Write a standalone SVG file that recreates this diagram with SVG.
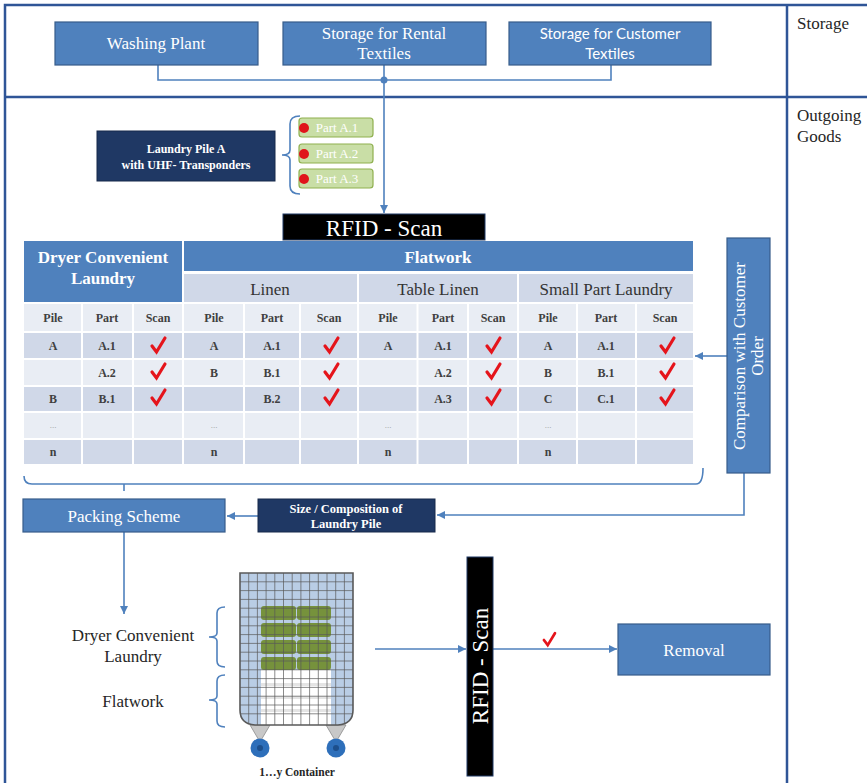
<svg xmlns="http://www.w3.org/2000/svg" width="867" height="783" viewBox="0 0 867 783">
  <style>
    .frame { stroke: #2f5597; stroke-width: 2.5; fill: none; }
    .box { fill: #4f81bd; stroke: #385d8a; stroke-width: 1.2; }
    .navy { fill: #1f3864; stroke: #17294a; stroke-width: 1; }
    .line { stroke: #4f81bd; stroke-width: 1.6; fill: none; }
    .brace { stroke: #4f81bd; stroke-width: 1.6; fill: none; }
    .serif, .lbl, .head, .sub, .dots { font-family: "Liberation Serif", "DejaVu Serif", "Noto Serif", serif; }
    .wt { fill: #ffffff; text-anchor: middle; }
    .lbl { font-size: 17px; fill: #262626; }
    .head { font-size: 12px; font-weight: bold; fill: #404040; text-anchor: middle; }
    .sub { font-size: 17px; fill: #333333; text-anchor: middle; }
    .dots { font-size: 9px; fill: #9a9a9a; text-anchor: middle; }
    .dark { fill: #d0d8e8; }
    .light { fill: #e9edf4; }
    .chk { stroke: #e5141b; stroke-width: 3.2; fill: none; stroke-linecap: round; stroke-linejoin: miter; }
    .part { fill: #c9dea6; stroke: #8fb04f; stroke-width: 1.2; }
    .tag { fill: #e0141b; }
    .scan { fill: #000000; stroke: #1f3864; stroke-width: 1; }
  </style>
  <defs>
    <marker id="arr" viewBox="0 0 10 10" refX="10" refY="5" markerWidth="8" markerHeight="8" markerUnits="userSpaceOnUse" orient="auto">
      <path d="M0,0 L10,5 L0,10 z" fill="#4f81bd"/>
    </marker>
    <path id="tick" d="M-6,0 L-1.5,6 L7,-8" class="chk"/>
    <clipPath id="cage">
      <path d="M240,573 L353,573 L353,710 Q353,724 338,725 L255,725 Q240,724 240,710 z"/>
    </clipPath>
  </defs>

  <rect x="0" y="0" width="867" height="783" fill="#ffffff"/>

  <!-- swimlane frame -->
  <g id="frame">
    <path class="frame" d="M5,783 L5,5 L867,5"/>
    <line class="frame" x1="5" y1="97" x2="867" y2="97"/>
    <line class="frame" x1="787" y1="5" x2="787" y2="783"/>
    <text class="lbl" x="797" y="29">Storage</text>
    <text class="lbl" x="797" y="121">Outgoing</text>
    <text class="lbl" x="797" y="142">Goods</text>
  </g>

  <!-- connectors -->
  <g id="connectors">
    <path class="line" d="M158,65 L158,80 L611,80 L611,65"/>
    <circle cx="384" cy="80" r="3.5" fill="#4f81bd"/>
    <path class="line" d="M384,65 L384,213" marker-end="url(#arr)"/>
    <path class="line" d="M727,356 L695,356" marker-end="url(#arr)"/>
    <path class="line" d="M744,473 L744,515 L437,515" marker-end="url(#arr)"/>
    <path class="line" d="M258,516 L227,516" marker-end="url(#arr)"/>
    <path class="line" d="M124,532 L124,614" marker-end="url(#arr)"/>
    <path class="line" d="M375,649 L466,649" marker-end="url(#arr)"/>
    <path class="line" d="M493,649 L617,649" marker-end="url(#arr)"/>
    <!-- bracket under the table -->
    <path class="brace" d="M24,476 Q24,484 32,484 L696,484 Q703,484 703,468"/>
    <line class="line" x1="124" y1="484" x2="124" y2="491"/>
    <!-- brace in front of the tagged parts -->
    <path class="brace" d="M300,116 Q290,116 290,124 L290,150 Q290,155 282,155 Q290,155 290,160 L290,186 Q290,194 300,194"/>
    <!-- braces beside the container -->
    <path class="brace" d="M225,607 Q217,607 217,613 L217,633 Q217,637 209,637 Q217,637 217,641 L217,661 Q217,667 225,667"/>
    <path class="brace" d="M225,675 Q217,675 217,681 L217,696 Q217,700 209,700 Q217,700 217,704 L217,721 Q217,727 225,727"/>
    <use href="#tick" transform="translate(549,640) scale(0.85)"/>
  </g>

  <!-- storage sources -->
  <g id="washing-plant">
    <rect class="box" x="55" y="22" width="203" height="43"/>
    <text class="serif wt" x="156" y="49" font-size="17">Washing Plant</text>
  </g>
  <g id="storage-rental">
    <rect class="box" x="283" y="22" width="203" height="43"/>
    <text class="serif wt" x="384" y="39" font-size="17">Storage for Rental</text>
    <text class="serif wt" x="384" y="59" font-size="17">Textiles</text>
  </g>
  <g id="storage-customer">
    <rect class="box" x="509" y="22" width="202" height="43"/>
    <text class="wt" x="610" y="39" font-size="15" font-family="Lato, 'Open Sans', sans-serif">Storage for Customer</text>
    <text class="wt" x="610" y="59" font-size="15" font-family="Lato, 'Open Sans', sans-serif">Textiles</text>
  </g>

  <!-- laundry pile with transponders -->
  <g id="laundry-pile">
    <rect class="navy" x="97" y="131" width="178" height="50"/>
    <text class="serif wt" x="186" y="153" font-size="12" font-weight="bold">Laundry Pile A</text>
    <text class="serif wt" x="186" y="169" font-size="12" font-weight="bold">with UHF- Transponders</text>
  </g>
  <g id="part-a1">
    <rect class="part" x="299" y="118" width="74" height="19" rx="3"/>
    <circle class="tag" cx="304" cy="128" r="5"/>
    <text class="serif wt" x="337" y="132" font-size="13">Part A.1</text>
  </g>
  <g id="part-a2">
    <rect class="part" x="299" y="144" width="74" height="19" rx="3"/>
    <circle class="tag" cx="304" cy="154" r="5"/>
    <text class="serif wt" x="337" y="158" font-size="13">Part A.2</text>
  </g>
  <g id="part-a3">
    <rect class="part" x="299" y="169" width="74" height="19" rx="3"/>
    <circle class="tag" cx="304" cy="179" r="5"/>
    <text class="serif wt" x="337" y="183" font-size="13">Part A.3</text>
  </g>

  <g id="rfid-scan-top">
    <rect class="scan" x="283" y="214" width="202" height="26"/>
    <text class="serif wt" x="384" y="236" font-size="23">RFID - Scan</text>
  </g>

  <!-- scan table -->
  <g id="scan-table">
    <rect x="24" y="241" width="158" height="61" fill="#4f81bd"/>
    <text class="serif wt" x="103" y="263" font-size="17" font-weight="bold">Dryer Convenient</text>
    <text class="serif wt" x="103" y="284" font-size="17" font-weight="bold">Laundry</text>
    <rect x="184" y="241" width="509" height="30" fill="#4f81bd"/>
    <text class="serif wt" x="438" y="263" font-size="17" font-weight="bold">Flatwork</text>
    <rect class="dark" x="184" y="274" width="173" height="28"/>
    <rect class="dark" x="359" y="274" width="158" height="28"/>
    <rect class="dark" x="519" y="274" width="174" height="28"/>
    <text class="sub" x="270" y="295">Linen</text>
    <text class="sub" x="438" y="295">Table Linen</text>
    <text class="sub" x="606" y="295">Small Part Laundry</text>

    <rect class="light" x="24" y="304" width="669" height="27"/>
    <rect class="dark" x="24" y="333" width="669" height="25"/>
    <rect class="light" x="24" y="360" width="669" height="25"/>
    <rect class="dark" x="24" y="387" width="669" height="24"/>
    <rect class="light" x="24" y="413" width="669" height="25"/>
    <rect class="dark" x="24" y="440" width="669" height="24"/>
    <g stroke="#ffffff" stroke-width="2">
      <line x1="82" y1="304" x2="82" y2="464"/>
      <line x1="133" y1="304" x2="133" y2="464"/>
      <line x1="183" y1="304" x2="183" y2="464"/>
      <line x1="244" y1="304" x2="244" y2="464"/>
      <line x1="300" y1="304" x2="300" y2="464"/>
      <line x1="358" y1="304" x2="358" y2="464"/>
      <line x1="417.5" y1="304" x2="417.5" y2="464"/>
      <line x1="468" y1="304" x2="468" y2="464"/>
      <line x1="518" y1="304" x2="518" y2="464"/>
      <line x1="577" y1="304" x2="577" y2="464"/>
      <line x1="636" y1="304" x2="636" y2="464"/>
    </g>

    <!-- column heads -->
    <g class="head">
      <text x="53" y="322">Pile</text><text x="107" y="322">Part</text><text x="158" y="322">Scan</text>
      <text x="214" y="322">Pile</text><text x="272" y="322">Part</text><text x="329" y="322">Scan</text>
      <text x="388" y="322">Pile</text><text x="443" y="322">Part</text><text x="493" y="322">Scan</text>
      <text x="548" y="322">Pile</text><text x="606" y="322">Part</text><text x="665" y="322">Scan</text>
    </g>
    <!-- rows -->
    <g class="head">
      <text x="53" y="350">A</text><text x="107" y="350">A.1</text>
      <text x="214" y="350">A</text><text x="272" y="350">A.1</text>
      <text x="388" y="350">A</text><text x="443" y="350">A.1</text>
      <text x="548" y="350">A</text><text x="606" y="350">A.1</text>

      <text x="107" y="377">A.2</text>
      <text x="214" y="377">B</text><text x="272" y="377">B.1</text>
      <text x="443" y="377">A.2</text>
      <text x="548" y="377">B</text><text x="606" y="377">B.1</text>

      <text x="53" y="403">B</text><text x="107" y="403">B.1</text>
      <text x="272" y="403">B.2</text>
      <text x="443" y="403">A.3</text>
      <text x="548" y="403">C</text><text x="606" y="403">C.1</text>

      <text x="53" y="456">n</text>
      <text x="214" y="456">n</text>
      <text x="388" y="456">n</text>
      <text x="548" y="456">n</text>
    </g>
    <g class="dots">
      <text x="53" y="428">...</text>
      <text x="214" y="428">...</text>
      <text x="388" y="428">...</text>
      <text x="548" y="428">...</text>
    </g>
    <!-- scan confirmations -->
    <use href="#tick" transform="translate(158,346)"/>
    <use href="#tick" transform="translate(158,372)"/>
    <use href="#tick" transform="translate(158,398)"/>
    <use href="#tick" transform="translate(331,346)"/>
    <use href="#tick" transform="translate(331,372)"/>
    <use href="#tick" transform="translate(331,398)"/>
    <use href="#tick" transform="translate(493,346)"/>
    <use href="#tick" transform="translate(493,372)"/>
    <use href="#tick" transform="translate(493,398)"/>
    <use href="#tick" transform="translate(667,346)"/>
    <use href="#tick" transform="translate(667,372)"/>
    <use href="#tick" transform="translate(667,398)"/>
  </g>

  <g id="comparison">
    <rect class="box" x="727" y="238" width="43" height="235"/>
    <g transform="translate(748,356) rotate(-90)">
      <text class="serif wt" x="0" y="-3" font-size="17">Comparison with Customer</text>
      <text class="serif wt" x="0" y="15" font-size="17">Order</text>
    </g>
  </g>

  <g id="size-composition">
    <rect class="navy" x="258" y="499" width="177" height="33"/>
    <text class="serif wt" x="346" y="513" font-size="12.5" font-weight="bold">Size / Composition of</text>
    <text class="serif wt" x="346" y="528" font-size="12.5" font-weight="bold">Laundry Pile</text>
  </g>

  <g id="packing-scheme">
    <rect class="box" x="23" y="499" width="202" height="33"/>
    <text class="serif wt" x="124" y="522" font-size="17">Packing Scheme</text>
  </g>

  <g id="container-labels">
    <text class="lbl" x="133" y="641" text-anchor="middle">Dryer Convenient</text>
    <text class="lbl" x="133" y="662" text-anchor="middle">Laundry</text>
    <text class="lbl" x="133" y="707" text-anchor="middle">Flatwork</text>
  </g>

  <!-- roll container -->
  <g id="container">
    <path d="M250,725 L270,725 L260,742 z" fill="#c8c8c8" stroke="#8c8c8c" stroke-width="0.8"/>
    <path d="M326,725 L346,725 L336,742 z" fill="#c8c8c8" stroke="#8c8c8c" stroke-width="0.8"/>
    <circle cx="260" cy="748" r="9.5" fill="#2e6fba"/>
    <circle cx="260" cy="748" r="3" fill="#1d4f8c"/>
    <circle cx="336" cy="748" r="9.5" fill="#2e6fba"/>
    <circle cx="336" cy="748" r="3" fill="#1d4f8c"/>
    <g clip-path="url(#cage)">
      <rect x="240" y="573" width="113" height="152" fill="#b9cde5"/>
      <rect x="261" y="670" width="70" height="55" fill="#ffffff"/>
      <g fill="#e4e4e4">
        <rect x="261" y="683" width="70" height="3"/>
        <rect x="261" y="696" width="70" height="3"/>
        <rect x="261" y="709" width="70" height="3"/>
      </g>
      <g fill="#76923c">
        <rect x="261" y="606" width="35" height="14" rx="3"/>
        <rect x="297" y="606" width="34" height="14" rx="3"/>
        <rect x="261" y="623" width="35" height="14" rx="3"/>
        <rect x="297" y="623" width="34" height="14" rx="3"/>
        <rect x="261" y="640" width="35" height="14" rx="3"/>
        <rect x="297" y="640" width="34" height="14" rx="3"/>
        <rect x="261" y="657" width="35" height="13" rx="3"/>
        <rect x="297" y="657" width="34" height="13" rx="3"/>
      </g>
      <g stroke="#595959" stroke-width="0.7">
        <path d="M248.7,573V725M257.4,573V725M266.1,573V725M274.8,573V725M283.5,573V725M292.2,573V725M300.9,573V725M309.6,573V725M318.3,573V725M327,573V725M335.7,573V725M344.4,573V725"/>
        <path d="M240,581.8H353M240,590.6H353M240,599.4H353M240,608.2H353M240,617H353M240,625.8H353M240,634.6H353M240,643.4H353M240,652.2H353M240,661H353M240,669.8H353M240,678.6H353M240,687.4H353M240,696.2H353M240,705H353M240,713.8H353"/>
      </g>
    </g>
    <path d="M240,573 L353,573 L353,710 Q353,724 338,725 L255,725 Q240,724 240,710 z" fill="none" stroke="#595959" stroke-width="1.6"/>
    <text class="serif" x="297" y="776" font-size="11.5" font-weight="bold" fill="#262626" text-anchor="middle">1…y Container</text>
  </g>

  <g id="rfid-scan-exit">
    <rect class="scan" x="467" y="557" width="26" height="219"/>
    <text class="serif wt" transform="translate(488,666) rotate(-90)" font-size="23">RFID - Scan</text>
  </g>

  <g id="removal">
    <rect class="box" x="618" y="624" width="152" height="51"/>
    <text class="serif wt" x="694" y="656" font-size="17">Removal</text>
  </g>
</svg>
